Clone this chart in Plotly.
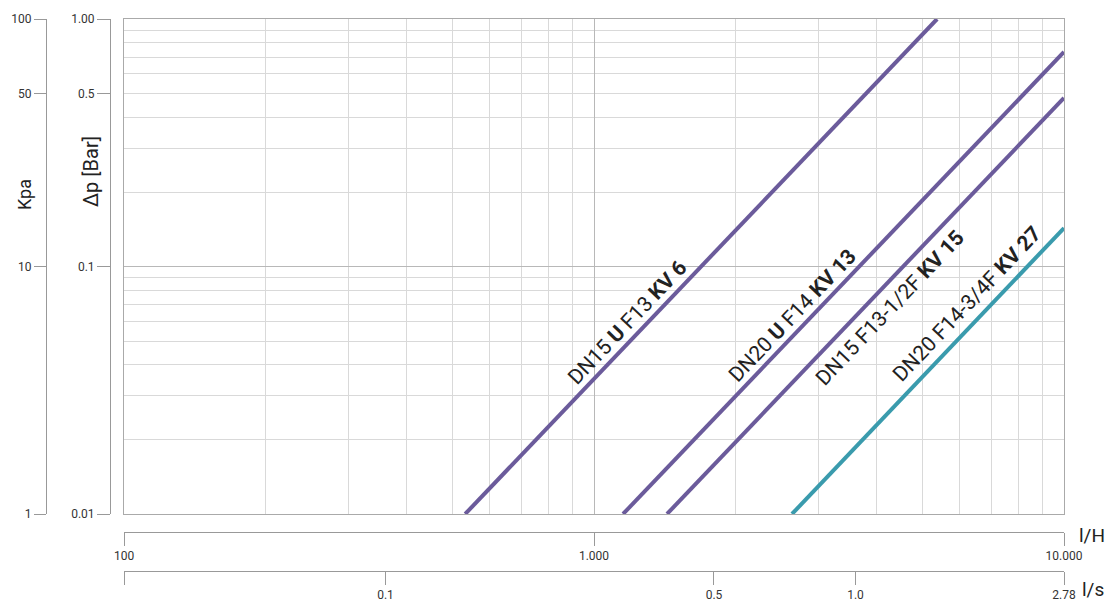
import math
import plotly.graph_objects as go

W, H = 1107, 600

# ---- data ----
series_names = ["DN15 U F13 KV 6", "DN20 U F14 KV 13", "DN15 F13-1/2F KV 15", "DN20 F14-3/4F KV 27"]
kv6_flow = [532, 5370]
kv6_dp = [0.01, 1.0]
kv13_flow = [1153, 10000]
kv13_dp = [0.01, 0.736]
kv15_flow = [1430, 10000]
kv15_dp = [0.01, 0.48]
kv27_flow = [2638, 10000]
kv27_dp = [0.01, 0.143]

lh_ticks = [100, 1000, 10000]
lh_labels = ["100", "1.000", "10.000"]
ls_ticks = [100 / 3600, 0.1, 0.5, 1.0, 10000 / 3600]
ls_labels = ["", "0.1", "0.5", "1.0", "2.78"]
bar_ticks = [0.01, 0.1, 0.5, 1.0]
bar_labels = ["0.01", "0.1", "0.5", "1.00"]
kpa_ticks = [1, 10, 50, 100]
kpa_labels = ["1", "10", "50", "100"]

purple = "#6b5b9b"
teal = "#3a9bad"

# ---- layout geometry ----
x0p, x1p = 124, 1064
y0p, y1p = 19, 514
xdom = [x0p / W, x1p / W]
ydom = [(H - y1p) / H, (H - y0p) / H]

fig = go.Figure()
for fl, dp, col, nm in [(kv6_flow, kv6_dp, purple, series_names[0]),
                        (kv13_flow, kv13_dp, purple, series_names[1]),
                        (kv15_flow, kv15_dp, purple, series_names[2]),
                        (kv27_flow, kv27_dp, teal, series_names[3])]:
    fig.add_trace(go.Scatter(x=fl, y=dp, mode="lines", name=nm,
                             line=dict(color=col, width=4), showlegend=False,
                             xaxis="x", yaxis="y"))

minor_x = [m * 10 ** e for e in (2, 3) for m in range(2, 10)]
minor_y = [m * 10 ** e for e in (-2, -1) for m in range(2, 10)]

tickfont = dict(family="Roboto, sans-serif", size=12, color="#333")

fig.update_layout(
    width=W, height=H,
    margin=dict(l=0, r=0, t=0, b=0, autoexpand=False),
    paper_bgcolor="white", plot_bgcolor="white",
    xaxis=dict(type="log", range=[2, 4], domain=xdom, anchor="y", automargin=False,
               tickvals=lh_ticks, showticklabels=False, ticks="",
               showgrid=True, gridcolor="#b8b8b8", gridwidth=1,
               showline=True, linecolor="#aaaaaa", mirror=True, zeroline=False,
               minor=dict(tickvals=minor_x, showgrid=True, gridcolor="#d9d9d9", ticks="")),
    yaxis=dict(type="log", range=[-2, 0], domain=ydom, anchor="x", automargin=False,
               tickvals=[0.01, 0.1, 1.0], showticklabels=False, ticks="",
               showgrid=True, gridcolor="#b8b8b8", gridwidth=1,
               showline=True, linecolor="#aaaaaa", mirror=True, zeroline=False,
               minor=dict(tickvals=minor_y, showgrid=True, gridcolor="#d9d9d9", ticks="")),
    xaxis2=dict(type="log", range=[2, 4], domain=xdom, overlaying="x", anchor="free",
                position=(H - 532) / H, side="bottom", automargin=False,
                tickvals=lh_ticks, ticktext=lh_labels, ticks="outside", ticklen=13,
                tickcolor="#999", showline=True, linecolor="#999", showgrid=False,
                zeroline=False, tickfont=tickfont),
    xaxis3=dict(type="log", range=[math.log10(100 / 3600), math.log10(10000 / 3600)],
                domain=xdom, overlaying="x", anchor="free", automargin=False,
                position=(H - 571) / H, side="bottom",
                tickvals=ls_ticks, ticktext=ls_labels, ticks="outside", ticklen=13,
                tickcolor="#999", showline=True, linecolor="#999", showgrid=False,
                zeroline=False, tickfont=tickfont),
    yaxis2=dict(type="log", range=[-2, 0], domain=ydom, overlaying="y", anchor="free",
                position=110 / W, side="left", automargin=False,
                tickvals=bar_ticks, ticktext=bar_labels, ticks="outside", ticklen=13,
                tickcolor="#999", showline=True, linecolor="#999", showgrid=False,
                zeroline=False, tickfont=tickfont),
    yaxis3=dict(type="log", range=[0, 2], domain=ydom, overlaying="y", anchor="free",
                position=46 / W, side="left", automargin=False,
                tickvals=kpa_ticks, ticktext=kpa_labels, ticks="outside", ticklen=12,
                tickcolor="#999", showline=True, linecolor="#999", showgrid=False,
                zeroline=False, tickfont=tickfont),
)

# dummy traces to activate secondary axes
fig.add_trace(go.Scatter(x=[None], y=[None], xaxis="x2", yaxis="y2", showlegend=False, hoverinfo="skip"))
fig.add_trace(go.Scatter(x=[None], y=[None], xaxis="x3", yaxis="y3", showlegend=False, hoverinfo="skip"))

def pt(px, py):
    return px / W, (H - py) / H

for txt, (px, py), ang, size in [("Kpa", (25, 195), -90, 18),
                                 ("Δp [Bar]", (91, 172), -90, 20),
                                 ("l/H", (1092, 535), 0, 19),
                                 ("l/s", (1093, 589), 0, 19)]:
    xx, yy = pt(px, py)
    fig.add_annotation(x=xx, y=yy, xref="paper", yref="paper", text=txt, showarrow=False,
                       xanchor="center", yanchor="middle",
                       textangle=ang, font=dict(family="Roboto, sans-serif", size=size, color="#222"))

labels = ["DN15 <b>U</b> F13 <b>KV 6</b>",
          "DN20 <b>U</b> F14 <b>KV 13</b>",
          "DN15 F13-1/2F <b>KV 15</b>",
          "DN20 F14-3/4F <b>KV 27</b>"]
centers = [(627, 323), (792, 316), (890, 308), (967, 304)]
angle = -math.degrees(math.atan(2 * (y1p - y0p) / 2 / ((x1p - x0p) / 2)))
for txt, (px, py) in zip(labels, centers):
    xx, yy = pt(px, py)
    fig.add_annotation(x=xx, y=yy, xref="paper", yref="paper", text=txt, showarrow=False,
                       xanchor="center", yanchor="middle",
                       textangle=angle, font=dict(family="Roboto, sans-serif", size=21, color="#222"))

fig.write_html("out.html", config={"displayModeBar": False},
               post_script="document.body.style.margin='0';document.body.style.padding='0';"
                           "document.body.style.overflow='hidden';")
